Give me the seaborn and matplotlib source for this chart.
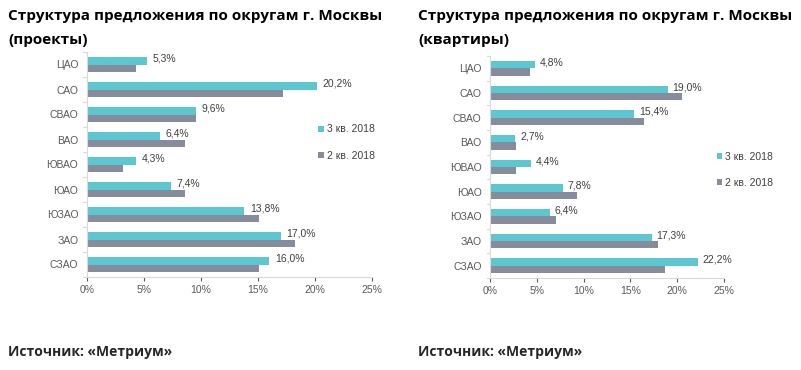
import pandas as pd
import numpy as np
import seaborn as sns
from matplotlib import pyplot as plt
from matplotlib.ticker import FuncFormatter

districts = ["ЦАО", "САО", "СВАО", "ВАО", "ЮВАО", "ЮАО", "ЮЗАО", "ЗАО", "СЗАО"]
periods = ["3 кв. 2018", "2 кв. 2018"]

# projects, %
proj_q3 = [5.3, 20.2, 9.6, 6.4, 4.3, 7.4, 13.8, 17.0, 16.0]
proj_q2 = [4.3, 17.2, 9.6, 8.6, 3.2, 8.6, 15.1, 18.3, 15.1]

# flats, %
flat_q3 = [4.8, 19.0, 15.4, 2.7, 4.4, 7.8, 6.4, 17.3, 22.2]
flat_q2 = [4.3, 20.5, 16.4, 2.8, 2.8, 9.3, 7.1, 18.0, 18.7]

title_left = "Структура предложения по округам г. Москвы\n(проекты)"
title_right = "Структура предложения по округам г. Москвы\n(квартиры)"
source = "Источник: «Метриум»"

sns.set_style("white")
plt.rcParams['font.family'] = ['Liberation Sans', 'DejaVu Sans']

colors = {"3 кв. 2018": "#5cc6d1", "2 кв. 2018": "#868c9b"}


def make_df(q3, q2):
    return pd.DataFrame({
        "district": districts * 2,
        "period": [periods[0]] * len(districts) + [periods[1]] * len(districts),
        "value": q3 + q2,
    })


def draw(ax, q3, q2, legend_pos):
    df = make_df(q3, q2)
    sns.barplot(data=df, y="district", x="value", hue="period", hue_order=periods,
                palette=colors, orient="h", width=0.6, ax=ax, saturation=1,
                linewidth=0, edgecolor="none")
    ax.set_xlim(0, 25)
    ax.set_ylim(len(districts) - 0.5, -0.5)
    ax.set_xlabel("")
    ax.set_ylabel("")
    ax.xaxis.set_major_formatter(FuncFormatter(lambda v, p: f"{v:.0f}%"))
    ax.set_xticks(np.arange(0, 26, 5))
    ax.tick_params(axis="x", labelsize=7.5, colors="#595959", length=3, width=0.8,
                   direction="out", bottom=True, pad=3)
    ax.tick_params(axis="y", labelsize=7.5, colors="#595959", length=0, pad=6)
    for s in ["top", "right"]:
        ax.spines[s].set_visible(False)
    for s in ["left", "bottom"]:
        ax.spines[s].set_color("#d9d9d9")
        ax.spines[s].set_linewidth(0.8)
    # category boundary ticks on the y axis
    for b in np.arange(-0.5, len(districts), 1):
        ax.plot([-0.35, 0], [b, b], color="#d9d9d9", lw=0.8, clip_on=False,
                transform=ax.transData)
    # labels for the 3 кв. series
    cont = ax.containers[0]
    for rect, v in zip(cont, q3):
        ax.text(rect.get_width() + 0.5, rect.get_y() + rect.get_height() * 0.2,
                f"{v:.1f}%".replace(".", ","), fontsize=7.5, color="#404040",
                va="center", ha="left")
    handles, labels = ax.get_legend_handles_labels()
    ax.legend(handles, labels, loc="upper left", bbox_to_anchor=legend_pos,
              frameon=False, fontsize=7.5, handlelength=0.5, handleheight=0.5,
              handletextpad=0.3, labelspacing=1.55, labelcolor="#404040")


fig = plt.figure(figsize=(8.01, 3.70), dpi=100)
ax1 = fig.add_axes([86.7 / 801, 93 / 370, 285 / 801, 225 / 370])
ax2 = fig.add_axes([490 / 801, 92 / 370, 234 / 801, 222 / 370])

draw(ax1, proj_q3, proj_q2, (0.78, 0.72))
draw(ax2, flat_q3, flat_q2, (0.93, 0.61))

title_font = dict(fontsize=11, fontweight="bold", color="black",
                  family=["Open Sans", "DejaVu Sans"], va="top", ha="left",
                  linespacing=1.9)
fig.text(8 / 801, 1 - 9 / 370, title_left, **title_font)
fig.text(418 / 801, 1 - 9 / 370, title_right, **title_font)
fig.text(8 / 801, 1 - 352 / 370, source, fontsize=10, fontweight="bold",
         family=["Open Sans", "DejaVu Sans"], va="center", ha="left")
fig.text(418 / 801, 1 - 352 / 370, source, fontsize=10, fontweight="bold",
         family=["Open Sans", "DejaVu Sans"], va="center", ha="left")

fig.savefig("out.png", dpi=100)
